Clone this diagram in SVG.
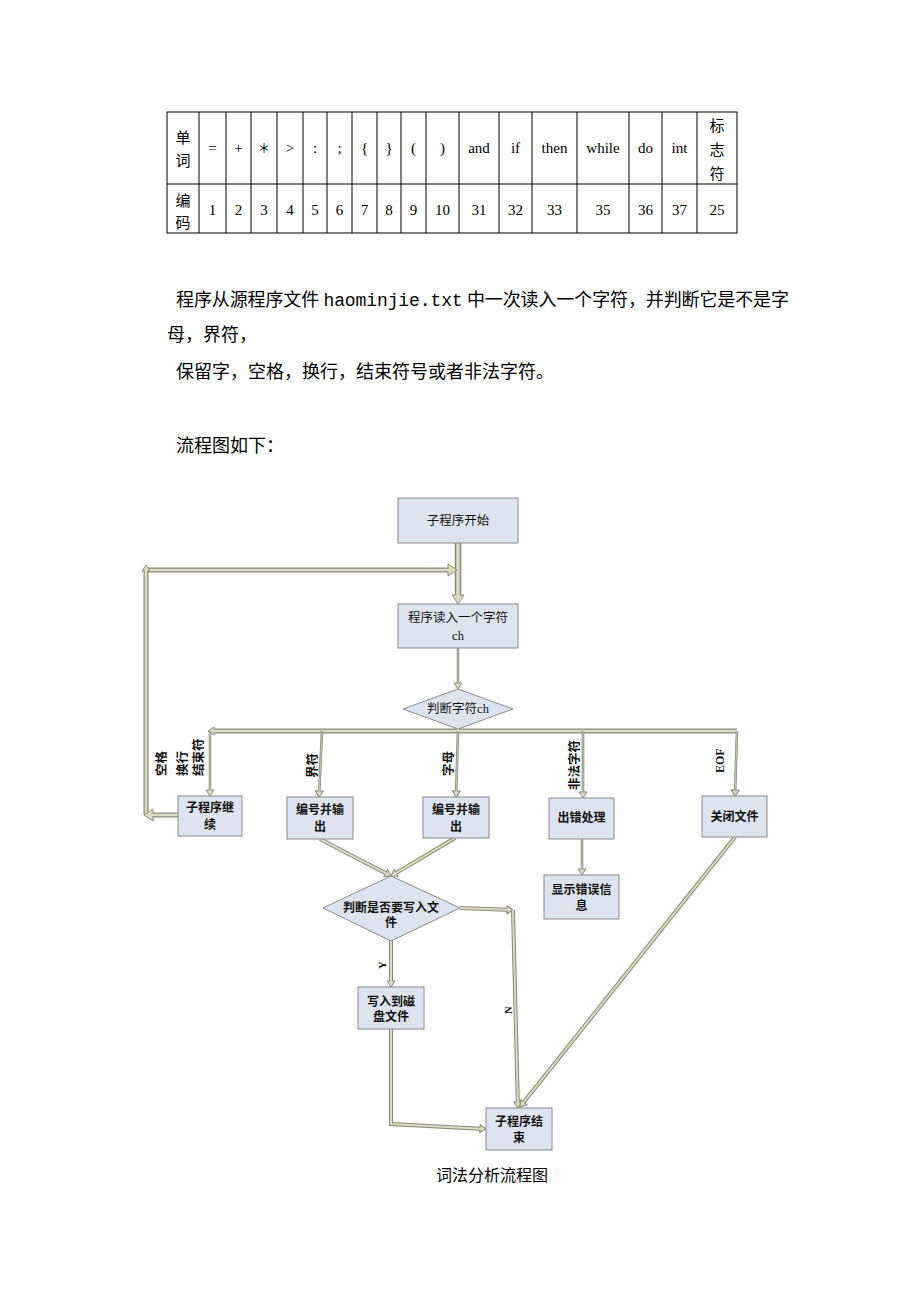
<svg xmlns="http://www.w3.org/2000/svg" width="920" height="1302" viewBox="0 0 920 1302">
<style>
.pg{font-family:"Liberation Serif","Noto Sans CJK SC",serif;font-size:18px;fill:#000}
.mono{font-family:"Liberation Mono","Noto Sans CJK SC",monospace}
.tb{font-family:"Liberation Serif","Noto Sans CJK SC",serif;font-size:15px;fill:#000;text-anchor:middle}
.tl{stroke:#000;stroke-width:1;fill:none}
.box{fill:#dde4f0;stroke:#8a8a8a;stroke-width:1}
.bt{font-family:"Noto Sans CJK SC",sans-serif;font-size:12px;font-weight:bold;fill:#111;text-anchor:middle}
.st{font-family:"Liberation Serif","Noto Sans CJK SC",serif;font-size:12.5px;fill:#111;text-anchor:middle}
.lb{font-family:"Noto Sans CJK SC",sans-serif;font-size:12.5px;font-weight:bold;fill:#111}
.lbs{font-family:"Liberation Serif",serif;font-size:12px;font-weight:bold;fill:#111}
.o{fill:none;stroke:#8a8a78;stroke-width:5}
.i{fill:none;stroke:#dcdcc6;stroke-width:2.5}
.ot{fill:none;stroke:#8a8a80;stroke-width:2.6}
.it{fill:none;stroke:#cfcfbc;stroke-width:0.9}
.ah{fill:#dcdcc6;stroke:#8a8a78;stroke-width:1}
</style>
<defs>
<marker id="A" viewBox="-1 -7 12 14" markerWidth="12" markerHeight="14" refX="0" refY="0" orient="auto" markerUnits="userSpaceOnUse"><path class="ah" d="M0,-6 L9,0 L0,6 Z"/></marker>
<marker id="S" viewBox="-1 -5 8 10" markerWidth="8" markerHeight="10" refX="0" refY="0" orient="auto" markerUnits="userSpaceOnUse"><path class="ah" d="M0,-4 L6,0 L0,4 Z"/></marker>
</defs>

<g id="table">
<rect class="tl" x="167" y="112" width="570" height="121"/>
<line class="tl" x1="167" y1="184" x2="737" y2="184"/>
<path class="tl" d="M199,112V233M226,112V233M251,112V233M277,112V233M303,112V233M327,112V233M352,112V233M377,112V233M401,112V233M426,112V233M459,112V233M499,112V233M532,112V233M577,112V233M629,112V233M662,112V233M697,112V233"/>
<text class="tb" x="183" y="143">单</text><text class="tb" x="183" y="166">词</text>
<text class="tb" x="212.5" y="153">=</text>
<text class="tb" x="238.5" y="153">+</text>
<text class="tb" x="264" y="153" style="font-family:'Noto Sans CJK SC',sans-serif;font-size:13px">＊</text>
<text class="tb" x="290" y="153">&gt;</text>
<text class="tb" x="315" y="153">:</text>
<text class="tb" x="339.5" y="153">;</text>
<text class="tb" x="364.5" y="153">{</text>
<text class="tb" x="389" y="153">}</text>
<text class="tb" x="413.5" y="153">(</text>
<text class="tb" x="442.5" y="153">)</text>
<text class="tb" x="479" y="153">and</text>
<text class="tb" x="515.5" y="153">if</text>
<text class="tb" x="554.5" y="153">then</text>
<text class="tb" x="603" y="153">while</text>
<text class="tb" x="645.5" y="153">do</text>
<text class="tb" x="679.5" y="153">int</text>
<text class="tb" x="717" y="131">标</text><text class="tb" x="717" y="155">志</text><text class="tb" x="717" y="179">符</text>
<text class="tb" x="183" y="206">编</text><text class="tb" x="183" y="228">码</text>
<text class="tb" x="212.5" y="215">1</text>
<text class="tb" x="238.5" y="215">2</text>
<text class="tb" x="264" y="215">3</text>
<text class="tb" x="290" y="215">4</text>
<text class="tb" x="315" y="215">5</text>
<text class="tb" x="339.5" y="215">6</text>
<text class="tb" x="364.5" y="215">7</text>
<text class="tb" x="389" y="215">8</text>
<text class="tb" x="413.5" y="215">9</text>
<text class="tb" x="442.5" y="215">10</text>
<text class="tb" x="479" y="215">31</text>
<text class="tb" x="515.5" y="215">32</text>
<text class="tb" x="554.5" y="215">33</text>
<text class="tb" x="603" y="215">35</text>
<text class="tb" x="645.5" y="215">36</text>
<text class="tb" x="679.5" y="215">37</text>
<text class="tb" x="717" y="215">25</text>
</g>

<g id="paragraph">
<text class="pg" x="176" y="306" textLength="613" lengthAdjust="spacing">程序从源程序文件 <tspan class="mono">haominjie.txt</tspan> 中一次读入一个字符，并判断它是不是字</text>
<text class="pg" x="167" y="341">母，界符，</text>
<text class="pg" x="176" y="378">保留字，空格，换行，结束符号或者非法字符。</text>
<text class="pg" x="176" y="452">流程图如下：</text>
</g>

<g id="connectors">
<path class="o" style="stroke-width:6.5" d="M458,543 V595" marker-end="url(#A)"/><path class="i" style="stroke-width:3.5" d="M458,543 V596"/>
<path class="o" d="M146,570 H448" marker-end="url(#A)"/><path class="i" d="M146,570 H449"/>
<path class="o" d="M146,815 V571" marker-end="url(#S)"/><path class="i" d="M146,815 V570"/>
<path class="o" d="M178,815 H153" marker-end="url(#A)"/><path class="i" d="M178,815 H152"/>
<path class="ot" d="M458,648 V683" marker-end="url(#S)"/><path class="it" d="M458,648 V684"/>
<path class="o" d="M458,728 V731 M737,731 H214" marker-end="url(#S)"/><path class="i" d="M458,728 V731 M737,731 H213"/>
<path class="ot" d="M210,731 V790" marker-end="url(#S)"/><path class="it" d="M210,731 V791"/>
<path class="ot" d="M322,731 L319.3,791" marker-end="url(#S)"/><path class="it" d="M322,731 L319.3,792"/>
<path class="ot" d="M458,731 L456.2,791" marker-end="url(#S)"/><path class="it" d="M458,731 L456.2,792"/>
<path class="ot" d="M583,731 V792" marker-end="url(#S)"/><path class="it" d="M583,731 V793"/>
<path class="ot" d="M737,731 L735.2,790" marker-end="url(#S)"/><path class="it" d="M737,731 L735.2,791"/>
<path class="ot" d="M582,839 V869" marker-end="url(#S)"/><path class="it" d="M582,839 V870"/>
<path class="o" style="stroke-width:4" d="M320,839 L385.7,873.2" marker-end="url(#S)"/><path class="i" style="stroke-width:2" d="M320,839 L386.5,873.6"/>
<path class="o" style="stroke-width:4" d="M455,838 L396.2,872.9" marker-end="url(#S)"/><path class="i" style="stroke-width:2" d="M455,838 L395.4,873.4"/>
<path class="o" style="stroke-width:4" d="M391,941 V981" marker-end="url(#S)"/><path class="i" style="stroke-width:2" d="M391,941 V982"/>
<path class="o" style="stroke-width:4" d="M391,1029 V1124 L480,1128.7" marker-end="url(#S)"/><path class="i" style="stroke-width:2" d="M391,1029 V1124 L481,1128.8"/>
<path class="o" style="stroke-width:4" d="M460,908 L507,909.8" marker-end="url(#S)"/><path class="i" style="stroke-width:2" d="M460,908 L508,909.8"/>
<path class="o" style="stroke-width:4" d="M513,910 L517.8,1102" marker-end="url(#S)"/><path class="i" style="stroke-width:2" d="M513,910 L517.8,1103"/>
<path class="o" style="stroke-width:4" d="M735,837 L523.7,1102.3" marker-end="url(#S)"/><path class="i" style="stroke-width:2" d="M735,837 L523.1,1103"/>
</g>

<g id="labels">
<text class="lb" transform="translate(166,776) rotate(-90)">空格</text>
<text class="lb" transform="translate(187,776) rotate(-90)">换行</text>
<text class="lb" transform="translate(203,776) rotate(-90)">结束符</text>
<text class="lb" transform="translate(317,778) rotate(-90)">界符</text>
<text class="lb" transform="translate(453,776) rotate(-90)">字母</text>
<text class="lb" transform="translate(579,790) rotate(-90)">非法字符</text>
<text class="lbs" transform="translate(724,773) rotate(-90)">EOF</text>
<text class="lbs" style="font-size:10.5px" transform="translate(386,969) rotate(-90)">Y</text>
<text class="lbs" style="font-size:10.5px" transform="translate(512,1014) rotate(-90)">N</text>
</g>

<g id="n-start"><rect class="box" x="398" y="498" width="120" height="45"/><text class="st" x="458" y="525">子程序开始</text></g>
<g id="n-read"><rect class="box" x="398" y="604" width="120" height="44"/><text class="st" x="458" y="622">程序读入一个字符</text><text class="st" x="458" y="640">ch</text></g>
<g id="n-judge"><polygon class="box" points="458,689 513,709 458,729 403,709"/><text class="st" x="458" y="713">判断字符ch</text></g>
<g id="n-continue"><rect class="box" x="178" y="796" width="64" height="40"/><text class="bt" x="210" y="812">子程序继</text><text class="bt" x="210" y="829">续</text></g>
<g id="n-out1"><rect class="box" x="287" y="797" width="66" height="42"/><text class="bt" x="320" y="814">编号并输</text><text class="bt" x="320" y="831">出</text></g>
<g id="n-out2"><rect class="box" x="423" y="797" width="66" height="41"/><text class="bt" x="456" y="814">编号并输</text><text class="bt" x="456" y="831">出</text></g>
<g id="n-error"><rect class="box" x="549" y="798" width="65" height="41"/><text class="bt" x="581.5" y="822">出错处理</text></g>
<g id="n-close"><rect class="box" x="702" y="796" width="65" height="41"/><text class="bt" x="734.5" y="821">关闭文件</text></g>
<g id="n-showerr"><rect class="box" x="544" y="875" width="75" height="44"/><text class="bt" x="581.5" y="894">显示错误信</text><text class="bt" x="581.5" y="910">息</text></g>
<g id="n-judge2"><polygon class="box" points="391,876 460,908 391,941 323,908"/><text class="bt" x="391" y="912">判断是否要写入文</text><text class="bt" x="391" y="927">件</text></g>
<g id="n-write"><rect class="box" x="358" y="987" width="66" height="42"/><text class="bt" x="391" y="1006">写入到磁</text><text class="bt" x="391" y="1021">盘文件</text></g>
<g id="n-end"><rect class="box" x="486" y="1108" width="66" height="42"/><text class="bt" x="519" y="1126">子程序结</text><text class="bt" x="519" y="1142">束</text></g>

<text class="pg" style="font-size:16px" x="492" y="1181" text-anchor="middle">词法分析流程图</text>
</svg>
